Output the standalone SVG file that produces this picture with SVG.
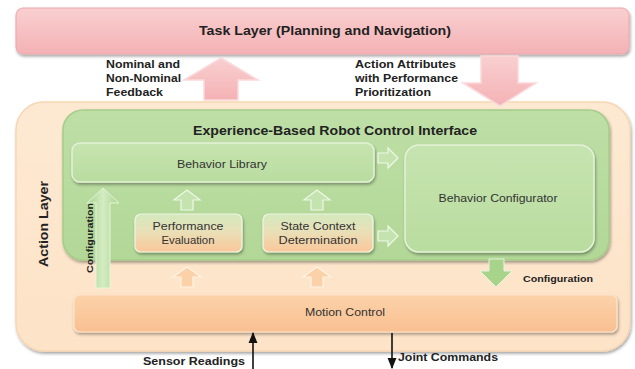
<svg xmlns="http://www.w3.org/2000/svg" width="635" height="369" viewBox="0 0 635 369">
<defs>
  <linearGradient id="gPink" x1="0" y1="0" x2="0" y2="1">
    <stop offset="0" stop-color="#f9cfd0"/>
    <stop offset="1" stop-color="#f4b2b5"/>
  </linearGradient>
  <linearGradient id="gPeach" x1="0" y1="0" x2="0" y2="1">
    <stop offset="0" stop-color="#fde9d2"/>
    <stop offset="1" stop-color="#fde3c7"/>
  </linearGradient>
  <linearGradient id="gGreen" x1="0" y1="0" x2="0" y2="1">
    <stop offset="0" stop-color="#bedfa6"/>
    <stop offset="1" stop-color="#b2d797"/>
  </linearGradient>
  <linearGradient id="gInner" x1="0" y1="0" x2="0" y2="1">
    <stop offset="0" stop-color="#c6e4b0"/>
    <stop offset="1" stop-color="#b9dc9f"/>
  </linearGradient>
  <linearGradient id="gMix" x1="0" y1="0" x2="0" y2="1">
    <stop offset="0" stop-color="#d3e9bd"/>
    <stop offset="0.45" stop-color="#e9e0b8"/>
    <stop offset="1" stop-color="#fbc79a"/>
  </linearGradient>
  <linearGradient id="gOrange" x1="0" y1="0" x2="0" y2="1">
    <stop offset="0" stop-color="#fcd2a9"/>
    <stop offset="1" stop-color="#f9c091"/>
  </linearGradient>
  <linearGradient id="gCfg" x1="0" y1="0" x2="1" y2="0">
    <stop offset="0" stop-color="#a9d48c"/>
    <stop offset="0.5" stop-color="#d4ecc3"/>
    <stop offset="1" stop-color="#a9d48c"/>
  </linearGradient>
  <filter id="sh" x="-5%" y="-10%" width="110%" height="125%">
    <feDropShadow dx="1" dy="2" stdDeviation="1.5" flood-color="#000" flood-opacity="0.35"/>
  </filter>
  <marker id="ah" viewBox="0 0 10 10" refX="9" refY="5" markerWidth="7" markerHeight="7" orient="auto">
    <path d="M0,1 L10,5 L0,9 z" fill="#111"/>
  </marker>
  <style>
    .b { font-family: "Liberation Sans", Arial, sans-serif; font-weight: bold; fill: #222; }
    .r { font-family: "Liberation Sans", Arial, sans-serif; fill: #333; font-size: 11px; }
    .mid { text-anchor: middle; }
    .box { stroke: #e4f2d8; stroke-width: 1.5; }
    .arrSmallG { fill: #c5e3ae; stroke: #eef8e6; stroke-width: 1.2; }
    .arrSmallO { fill: #fbd1a8; stroke: #fff3e6; stroke-width: 1.2; }
    .bigArr { fill: url(#gPink); stroke: #fbd9da; stroke-width: 1.5; }
  </style>
</defs>

<g id="task-layer">
  <rect x="16" y="8" width="613" height="46" rx="7" fill="url(#gPink)" stroke="#eaa7aa" stroke-width="1" filter="url(#sh)"/>
  <text class="b mid" x="325" y="35" font-size="12" textLength="252" lengthAdjust="spacingAndGlyphs">Task Layer (Planning and Navigation)</text>
</g>

<g id="action-layer">
  <rect x="16" y="102" width="614" height="249" rx="28" fill="url(#gPeach)" stroke="#f7d7b3" stroke-width="1.5" filter="url(#sh)"/>
  <text class="b mid" x="0" y="0" font-size="12.5" textLength="86" lengthAdjust="spacingAndGlyphs" transform="translate(48,224) rotate(-90)">Action Layer</text>
</g>

<g id="experience-interface">
  <rect x="63" y="110" width="546" height="150" rx="20" fill="url(#gGreen)" stroke="#a5cd89" stroke-width="1.5" filter="url(#sh)"/>
  <text class="b mid" x="335" y="135" font-size="12.5" textLength="284" lengthAdjust="spacingAndGlyphs">Experience-Based Robot Control Interface</text>
</g>

<g id="behavior-library">
  <rect x="72" y="143" width="302" height="39" rx="8" fill="url(#gInner)" class="box" filter="url(#sh)"/>
  <text class="r mid" x="222" y="168" textLength="90" lengthAdjust="spacingAndGlyphs">Behavior Library</text>
</g>

<g id="behavior-configurator">
  <rect x="405" y="145" width="189" height="107" rx="14" fill="url(#gInner)" class="box" filter="url(#sh)"/>
  <text class="r mid" x="498" y="202" textLength="119" lengthAdjust="spacingAndGlyphs">Behavior Configurator</text>
</g>

<g id="performance-evaluation">
  <rect x="135" y="214" width="107" height="38" rx="6" fill="url(#gMix)" stroke="#eef6e4" stroke-width="1.2" filter="url(#sh)"/>
  <text class="r mid" x="188" y="230" textLength="71" lengthAdjust="spacingAndGlyphs">Performance</text>
  <text class="r mid" x="188" y="244" textLength="53" lengthAdjust="spacingAndGlyphs">Evaluation</text>
</g>

<g id="state-context-determination">
  <rect x="263" y="214" width="110" height="38" rx="6" fill="url(#gMix)" stroke="#eef6e4" stroke-width="1.2" filter="url(#sh)"/>
  <text class="r mid" x="318" y="230" textLength="75" lengthAdjust="spacingAndGlyphs">State Context</text>
  <text class="r mid" x="318" y="244" textLength="79" lengthAdjust="spacingAndGlyphs">Determination</text>
</g>

<g id="motion-control">
  <rect x="74" y="295" width="543" height="37" rx="6" fill="url(#gOrange)" stroke="#fde4cb" stroke-width="1.2" filter="url(#sh)"/>
  <text class="r mid" x="345" y="316" textLength="80" lengthAdjust="spacingAndGlyphs">Motion Control</text>
</g>

<g id="connectors">
  <!-- big pink up arrow: feedback -->
  <path class="bigArr" d="M221,58 L258,80 L238,80 L238,100 L204,100 L204,80 L184,80 Z"/>
  <text class="b" x="106" y="68" font-size="11" textLength="74" lengthAdjust="spacingAndGlyphs">Nominal and</text>
  <text class="b" x="106" y="82" font-size="11" textLength="75" lengthAdjust="spacingAndGlyphs">Non-Nominal</text>
  <text class="b" x="106" y="96" font-size="11" textLength="57" lengthAdjust="spacingAndGlyphs">Feedback</text>

  <!-- big pink down arrow: attributes -->
  <path class="bigArr" d="M481,56 L518,56 L518,83 L536,83 L500,106 L463,83 L481,83 Z"/>
  <text class="b" x="355" y="68" font-size="11" textLength="101" lengthAdjust="spacingAndGlyphs">Action Attributes</text>
  <text class="b" x="355" y="82" font-size="11" textLength="103" lengthAdjust="spacingAndGlyphs">with Performance</text>
  <text class="b" x="355" y="96" font-size="11" textLength="76" lengthAdjust="spacingAndGlyphs">Prioritization</text>

  <!-- configuration arrow (green, vertical) -->
  <path d="M103,188 L119,203 L110,203 L110,288 L96,288 L96,203 L87,203 Z" fill="url(#gCfg)" stroke="#e6f4da" stroke-width="1"/>
  <text class="b mid" x="0" y="0" font-size="9.5" textLength="70" lengthAdjust="spacingAndGlyphs" transform="translate(93,238) rotate(-90)">Configuration</text>

  <!-- small hollow up arrows into Behavior Library -->
  <path class="arrSmallG" d="M187,190 L200,200 L193,200 L193,210 L181,210 L181,200 L174,200 Z"/>
  <path class="arrSmallG" d="M317,190 L330,200 L323,200 L323,210 L311,210 L311,200 L304,200 Z"/>

  <!-- small hollow right arrows into Behavior Configurator -->
  <path class="arrSmallG" d="M398,158 L388,148 L388,153 L378,153 L378,163 L388,163 L388,168 Z"/>
  <path class="arrSmallG" d="M398,236 L388,226 L388,231 L378,231 L378,241 L388,241 L388,246 Z"/>

  <!-- small orange up arrows from Motion Control -->
  <path class="arrSmallO" d="M187,267 L201,277 L193,277 L193,287 L181,287 L181,277 L173,277 Z"/>
  <path class="arrSmallO" d="M317,267 L331,277 L323,277 L323,287 L311,287 L311,277 L303,277 Z"/>

  <!-- green down arrow: configuration -->
  <path d="M489,259 L504,259 L504,271 L512,271 L496,287 L480,271 L489,271 Z" fill="#a8d38b" stroke="#e6f4da" stroke-width="1"/>
  <text class="b" x="523" y="282" font-size="9.5" textLength="70" lengthAdjust="spacingAndGlyphs">Configuration</text>

  <!-- sensor readings / joint commands -->
  <line x1="253" y1="369" x2="253" y2="333" stroke="#111" stroke-width="1.6" marker-end="url(#ah)"/>
  <text class="b" x="245" y="365" font-size="11" text-anchor="end" textLength="102" lengthAdjust="spacingAndGlyphs">Sensor Readings</text>
  <line x1="392" y1="333" x2="392" y2="368" stroke="#111" stroke-width="1.6" marker-end="url(#ah)"/>
  <text class="b" x="398" y="361" font-size="11" textLength="100" lengthAdjust="spacingAndGlyphs">Joint Commands</text>
</g>
</svg>
